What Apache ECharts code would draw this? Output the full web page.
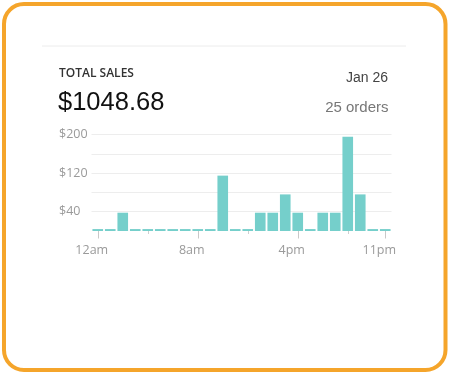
<!DOCTYPE html>
<html>
<head>
<meta charset="utf-8">
<script src="https://cdn.jsdelivr.net/npm/echarts@6/dist/echarts.min.js"></script>
<style>
html,body{margin:0;padding:0;background:#fff;}
#c{width:451px;height:374px;}
</style>
</head>
<body>
<div id="c"></div>
<script>
const hours = ['12am','1am','2am','3am','4am','5am','6am','7am','8am','9am','10am','11am',
               '12pm','1pm','2pm','3pm','4pm','5pm','6pm','7pm','8pm','9pm','10pm','11pm'];
const sales = [4,4,38,4,4,4,4,4,4,4,115,4,4,38,38,76,38,4,38,38,196,76,4,4];
const labeledHours = ['12am','8am','4pm','11pm'];
const yTickLabels = [40,120,200];
const title = 'TOTAL SALES';
const total = '$1048.68';
const dateText = 'Jan 26';
const ordersText = '25 orders';

const chart = echarts.init(document.getElementById('c'), null, {renderer:'canvas'});
const isLabeled = (i) => labeledHours.indexOf(hours[i]) >= 0;
chart.setOption({
  animation:false,
  grid:{left:91.5, right:59.5, top:134.7, bottom:143},
  graphic:[
    {type:'rect', shape:{x:4,y:4,width:441.5,height:366,r:20}, style:{fill:'none',stroke:'#F5A52B',lineWidth:4}},
    {type:'line', shape:{x1:42,y1:46,x2:406,y2:46}, style:{stroke:'#ececec',lineWidth:1}},
    {type:'text', x:59, y:68, style:{text:title, font:'600 12px "Open Sans"', fill:'#333'}},
    {type:'text', x:58, y:89.5, style:{text:total, font:'25.5px "Liberation Sans"', fill:'#111'}},
    {type:'text', x:388, y:71, style:{text:dateText, font:'14px "Liberation Sans"', fill:'#444', align:'right'}},
    {type:'text', x:388.5, y:100, style:{text:ordersText, font:'15px "Liberation Sans"', fill:'#777', align:'right'}}
  ],
  xAxis:[
    {type:'category', data:hours, position:'bottom',
     axisLine:{show:false},
     axisTick:{show:true, alignWithLabel:true, length:3, lineStyle:{color:'#cfcfcf'}},
     axisLabel:{show:false}},
    {type:'category', data:hours, position:'bottom',
     axisLine:{show:false},
     axisTick:{show:true, alignWithLabel:true, length:7.5, interval:(i)=>isLabeled(i), lineStyle:{color:'#c8c8c8'}},
     axisLabel:{show:true, interval:(i)=>isLabeled(i), margin:13, padding:[0,12,0,0],
                color:'#9a9a9a', fontSize:12.5, fontFamily:'Open Sans'}}
  ],
  yAxis:{type:'value', min:0, max:200, interval:40,
    axisLine:{show:false}, axisTick:{show:false},
    axisLabel:{align:'left', margin:32.5, color:'#9a9a9a', fontSize:12.5, fontFamily:'Open Sans',
      formatter:(v)=> yTickLabels.indexOf(v)>=0 ? '$'+v : ''},
    splitLine:{lineStyle:{color:['rgba(0,0,0,0)','#ededed','#ededed','#ededed','#ededed','#ededed'], width:1}}
  },
  series:[{type:'bar', xAxisIndex:0, data:sales, barCategoryGap:'15%',
    itemStyle:{color:'#75CFCB'}}]
});
</script>
</body>
</html>
